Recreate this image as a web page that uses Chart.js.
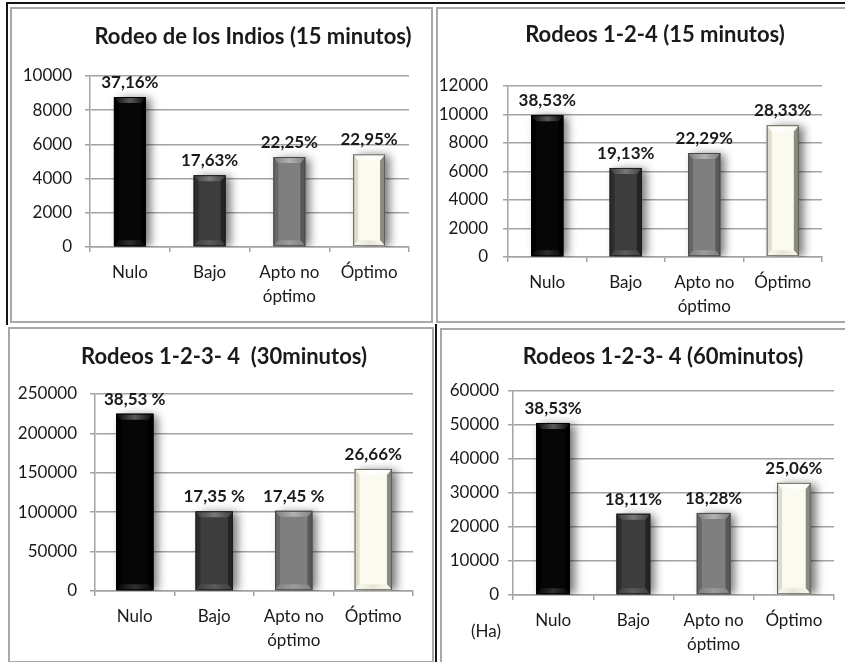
<!DOCTYPE html>
<html>
<head>
<meta charset="utf-8">
<title>Superficie por aptitud</title>
<script src="https://cdn.jsdelivr.net/npm/chart.js@4.4.1/dist/chart.umd.min.js"></script>
<style>
  html, body { margin: 0; padding: 0; background: #fff; }
  body { position: relative; width: 845px; height: 662px; overflow: hidden; }
  .frame { position: absolute; box-sizing: border-box; border: 2px solid #a8a8a8; }
  .rule { position: absolute; background: #151515; }
  canvas { position: absolute; }
</style>
</head>
<body>
<div class="rule" style="left:7px;top:2px;width:840px;height:2px"></div>
<div class="rule" style="left:6px;top:2px;width:2px;height:323px"></div>
<div class="rule" style="left:435px;top:324px;width:2px;height:340px"></div>

<div class="frame" style="left:10px;top:7px;width:423px;height:316px"></div>
<div class="frame" style="left:436px;top:7px;width:412px;height:316px"></div>
<div class="frame" style="left:8px;top:327px;width:426px;height:336px"></div>
<div class="frame" style="left:440px;top:328px;width:408px;height:336px"></div>

<canvas id="c1" style="left:12px;top:9px" width="420" height="313"></canvas>
<canvas id="c2" style="left:438px;top:9px" width="407" height="313"></canvas>
<canvas id="c3" style="left:10px;top:329px" width="423" height="332"></canvas>
<canvas id="c4" style="left:442px;top:330px" width="403" height="332"></canvas>

<script>
// Categories of aptitude, shared by the four panels
const categories = ['Nulo', 'Bajo', ['Apto no', 'óptimo'], 'Óptimo'];

// Surface (Ha) per aptitude class and the share labels printed over each bar
const haIndios15 = [8770, 4200, 5260, 5420];
const pctIndios15 = ['37,16%', '17,63%', '22,25%', '22,95%'];

const haRodeos124_15 = [9950, 6250, 7300, 9250];
const pctRodeos124_15 = ['38,53%', '19,13%', '22,29%', '28,33%'];

const haRodeos1234_30 = [225000, 101200, 101800, 155000];
const pctRodeos1234_30 = ['38,53 %', '17,35 %', '17,45 %', '26,66%'];

const haRodeos1234_60 = [50600, 23900, 24150, 33000];
const pctRodeos1234_60 = ['38,53%', '18,11%', '18,28%', '25,06%'];

// Axis ranges and panel titles
const yMaxima = [10000, 12000, 250000, 60000];
const yStepSizes = [2000, 2000, 50000, 10000];
const panelTitles = [
  'Rodeo de los Indios (15 minutos)',
  'Rodeos 1-2-4 (15 minutos)',
  'Rodeos 1-2-3- 4  (30minutos)',
  'Rodeos 1-2-3- 4 (60minutos)'
];
const unitLabel = '(Ha)';

// Bevelled bar look, one style per category
const barLooks = [
  { face: '#060606', top: '#5a5a5a', left: '#000000', right: '#000000', bottom: '#303030', line: '#000000' },
  { face: '#3d3d3d', top: '#7a7a7a', left: '#2d2d2d', right: '#242424', bottom: '#5c5c5c', line: '#1c1c1c' },
  { face: '#7f7f7f', top: '#b3b3b3', left: '#666666', right: '#585858', bottom: '#9c9c9c', line: '#474747' },
  { face: '#fbfaf0', top: '#ffffff', left: '#dddccd', right: '#8c8b80', bottom: '#e7e6d7', line: '#5c5c58' }
];

const FONT = 'Lato, "Open Sans", "DejaVu Sans", sans-serif';
const INK = '#1a1a1a';
const GRID = '#a3a3a3';

function poly(ctx, pts, fill) {
  ctx.beginPath();
  ctx.moveTo(pts[0][0], pts[0][1]);
  for (let i = 1; i < pts.length; i++) ctx.lineTo(pts[i][0], pts[i][1]);
  ctx.closePath();
  ctx.fillStyle = fill;
  ctx.fill();
}

function drawBevel(ctx, bar, look) {
  const l = bar.x - bar.width / 2, r = bar.x + bar.width / 2;
  const t = Math.min(bar.y, bar.base), b = Math.max(bar.y, bar.base);
  const bx = Math.min(5, bar.width / 6), by = Math.min(6, (b - t) / 4);
  poly(ctx, [[l, t], [l + bx, t + by], [l + bx, b - by], [l, b]], look.left);
  poly(ctx, [[r, t], [r - bx, t + by], [r - bx, b - by], [r, b]], look.right);
  const gt = ctx.createLinearGradient(l, 0, r, 0);
  gt.addColorStop(0, look.face);
  gt.addColorStop(0.5, look.top);
  gt.addColorStop(1, look.face);
  poly(ctx, [[l, t], [r, t], [r - bx, t + by], [l + bx, t + by]], gt);
  const gb = ctx.createLinearGradient(l, 0, r, 0);
  gb.addColorStop(0, look.face);
  gb.addColorStop(0.5, look.bottom);
  gb.addColorStop(1, look.face);
  poly(ctx, [[l, b], [r, b], [r - bx, b - by], [l + bx, b - by]], gb);
  ctx.strokeStyle = look.line;
  ctx.lineWidth = 1;
  ctx.strokeRect(l + 0.5, t + 0.5, bar.width - 1, b - t - 1);
}

// Shadow behind the bars, bevel and share labels on top, plus title and unit text
const panelDecor = {
  id: 'panelDecor',
  beforeDatasetsDraw(chart) {
    const ctx = chart.ctx;
    ctx.save();
    ctx.shadowColor = 'rgba(0,0,0,0.55)';
    ctx.shadowBlur = 9;
    ctx.shadowOffsetX = 5;
    ctx.shadowOffsetY = 1;
  },
  afterDatasetsDraw(chart, args, opts) {
    const ctx = chart.ctx;
    ctx.restore();
    const meta = chart.getDatasetMeta(0);
    ctx.save();
    meta.data.forEach((bar, i) => drawBevel(ctx, bar, barLooks[i]));
    ctx.font = 'bold 17px ' + FONT;
    ctx.fillStyle = INK;
    ctx.textAlign = 'center';
    ctx.textBaseline = 'bottom';
    meta.data.forEach((bar, i) => {
      ctx.fillText(opts.labels[i], bar.x, bar.y - 6);
    });
    ctx.restore();
  },
  afterDraw(chart, args, opts) {
    const ctx = chart.ctx;
    ctx.save();
    ctx.fillStyle = INK;
    ctx.textAlign = 'center';
    ctx.textBaseline = 'middle';
    ctx.font = 'bold 22px ' + FONT;
    ctx.fillText(opts.title, opts.titleX, opts.titleY);
    if (opts.note) {
      ctx.font = '17px ' + FONT;
      ctx.fillText(opts.note, opts.noteX, opts.noteY);
    }
    ctx.restore();
  }
};

function makePanel(id, values, labels, idx, geo) {
  new Chart(document.getElementById(id), {
    type: 'bar',
    data: {
      labels: categories,
      datasets: [{
        data: values,
        backgroundColor: barLooks.map(l => l.face),
        borderWidth: 0,
        barPercentage: 1,
        categoryPercentage: geo.barShare
      }]
    },
    plugins: [panelDecor],
    options: {
      responsive: false,
      animation: false,
      events: [],
      layout: { padding: { top: geo.top, left: 0, right: geo.right, bottom: 0 } },
      plugins: {
        legend: { display: false },
        title: { display: false },
        tooltip: { enabled: false },
        panelDecor: {
          labels: labels,
          title: panelTitles[idx],
          titleX: geo.titleX, titleY: geo.titleY,
          note: geo.note, noteX: geo.noteX, noteY: geo.noteY
        }
      },
      scales: {
        x: {
          afterFit(s) { s.height = geo.xHeight; },
          grid: { display: true, drawOnChartArea: false, drawTicks: true, tickLength: 5, color: GRID, lineWidth: 1.5 },
          border: { display: true, color: GRID, width: 1.5 },
          ticks: { color: INK, padding: 9, font: { family: FONT, size: 17, lineHeight: 1.4 }, maxRotation: 0, autoSkip: false }
        },
        y: {
          min: 0,
          max: yMaxima[idx],
          afterFit(s) { s.width = geo.yWidth; },
          grid: { color: GRID, lineWidth: 1.5, tickLength: 5, drawTicks: true },
          border: { display: true, color: GRID, width: 1.5 },
          ticks: {
            stepSize: yStepSizes[idx],
            color: INK,
            padding: geo.tickGap,
            font: { family: FONT, size: 17 },
            callback: v => String(v)
          }
        }
      }
    }
  });
}

makePanel('c1', haIndios15, pctIndios15, 0,
  { top: 67, right: 23, yWidth: 78, xHeight: 75, tickGap: 13, barShare: 0.40, titleX: 241, titleY: 28 });
makePanel('c2', haRodeos124_15, pctRodeos124_15, 1,
  { top: 77, right: 23, yWidth: 70, xHeight: 65, tickGap: 15, barShare: 0.41, titleX: 217, titleY: 26 });
makePanel('c3', haRodeos1234_30, pctRodeos1234_30, 2,
  { top: 65, right: 20, yWidth: 85, xHeight: 70, tickGap: 13, barShare: 0.47, titleX: 214, titleY: 28 });
makePanel('c4', haRodeos1234_60, pctRodeos1234_60, 3,
  { top: 61, right: 11, yWidth: 71, xHeight: 67, tickGap: 9, barShare: 0.42, titleX: 221, titleY: 27,
    note: unitLabel, noteX: 44, noteY: 302 });
</script>
</body>
</html>
